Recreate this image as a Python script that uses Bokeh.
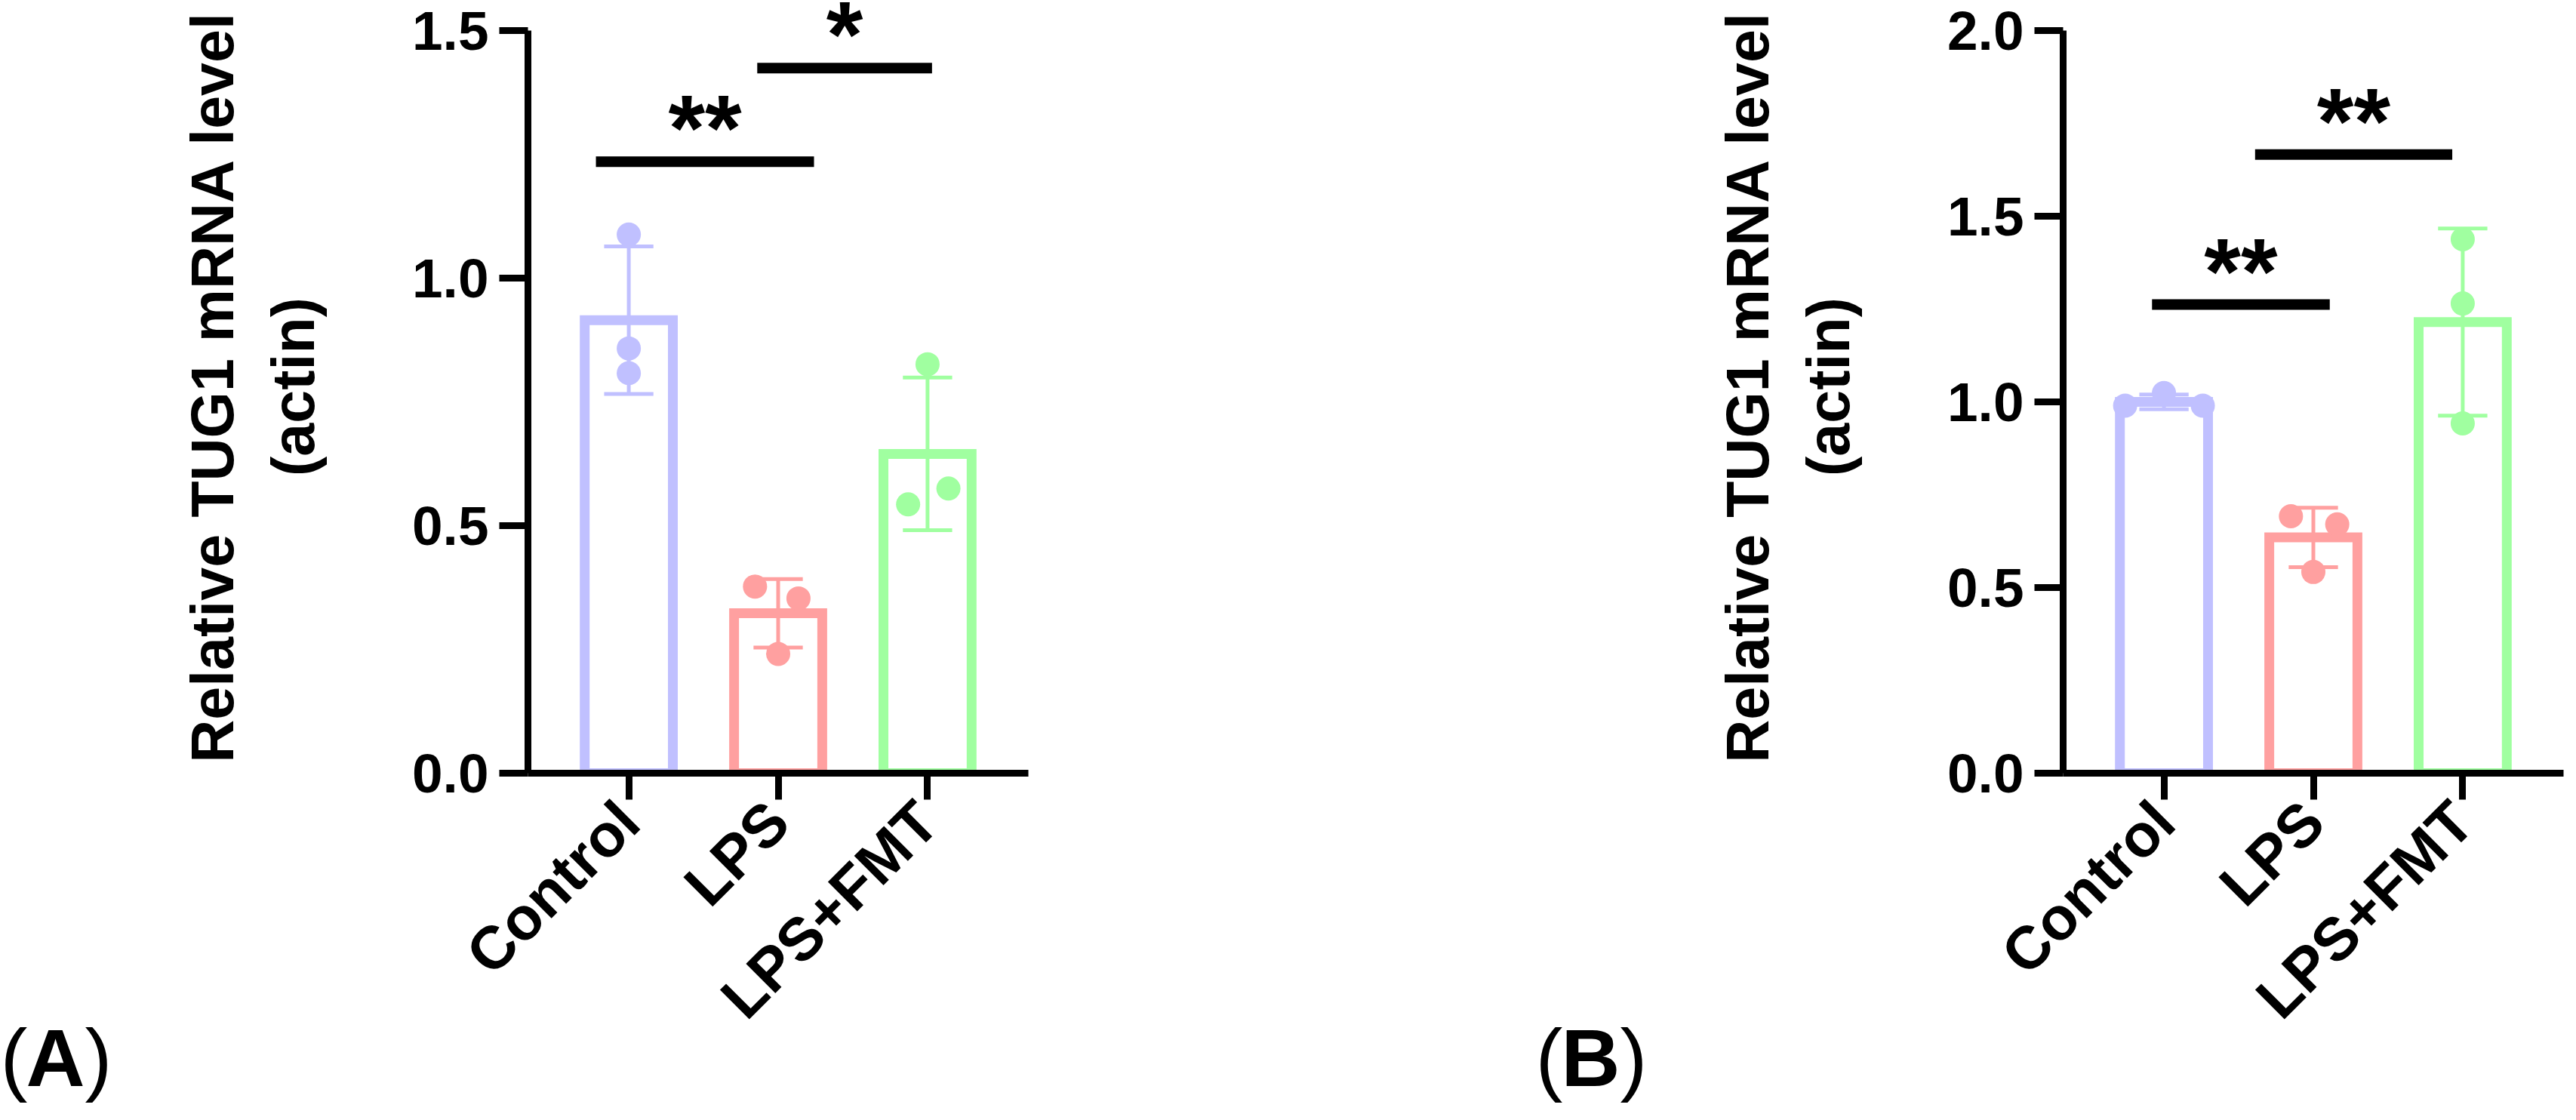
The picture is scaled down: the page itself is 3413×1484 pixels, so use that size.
from math import pi
from bokeh.plotting import figure
from bokeh.models import Label, FixedTicker, Range1d, ColumnDataSource, NumeralTickFormatter
from bokeh.layouts import row
from bokeh.embed import file_html
from bokeh.resources import INLINE

# ---------------- data ----------------
categories = ["Control", "LPS", "LPS+FMT"]
colors = ["#C0C0FF", "#FFA0A0", "#A0FFA0"]

# Panel A
a_means = [0.915, 0.323, 0.645]
a_sd = [0.149, 0.069, 0.154]
a_points = [[1.088, 0.858, 0.808], [0.377, 0.353, 0.241], [0.826, 0.575, 0.543]]
a_jitter = [[0.0, 0.0, 0.0], [-0.155, 0.136, 0.0], [0.0, 0.14, -0.13]]
a_yticks = [0.0, 0.5, 1.0, 1.5]
a_sig_from = [0, 1]
a_sig_to = [1, 2]
a_sig_level = [1.235, 1.424]
a_sig_text = ["**", "*"]

# Panel B
b_means = [1.0, 0.635, 1.215]
b_sd = [0.02, 0.08, 0.252]
b_points = [[0.99, 1.024, 0.99], [0.692, 0.670, 0.542], [1.438, 1.265, 0.942]]
b_jitter = [[-0.26, 0.0, 0.26], [-0.15, 0.16, 0.0], [0.0, 0.0, 0.0]]
b_yticks = [0.0, 0.5, 1.0, 1.5, 2.0]
b_sig_from = [0, 1]
b_sig_to = [1, 2]
b_sig_level = [1.262, 1.666]
b_sig_text = ["**", "**"]

ytitle = "Relative TUG1 mRNA level\n(actin)"

# ---------------- layout constants (page pixels) ----------------
FONT = "Liberation Sans"
FRAME_W = 663
AXIS_PX = 984          # pixel length of the y axis (0 .. top tick)
X0, X1 = -0.675, 2.675
TOP_EXTRA = 40         # space above the top tick (inside the frame)
CANVAS_H = 1468
STAR_SIZE = 125


def make_panel(frame_left_page, fig_left_page, fig_width, means, sd, points, jitter,
               yticks, sig_from, sig_to, sig_level, sig_text, sig_ext, letter):
    ymax = yticks[-1]
    pyu = AXIS_PX / ymax            # px per y unit
    pxu = FRAME_W / (X1 - X0)       # px per x unit
    ytop = ymax + TOP_EXTRA / pyu
    pad_left = frame_left_page - 8 - fig_left_page
    frame_h = AXIS_PX + TOP_EXTRA
    p = figure(frame_width=FRAME_W, frame_height=frame_h,
               x_range=Range1d(X0, X1), y_range=Range1d(0, ytop),
               min_border_left=pad_left,
               min_border_right=fig_width - pad_left - FRAME_W,
               min_border_top=0, min_border_bottom=CANVAS_H - frame_h,
               output_backend="svg", toolbar_location=None)
    p.outline_line_color = None
    p.grid.visible = False
    p.background_fill_color = "white"
    p.border_fill_color = "white"

    def px2x(px):
        return X0 + (px - frame_left_page) / pxu

    def py2y(py):
        return (1032 - py) / pyu

    for ax in (p.xaxis[0], p.yaxis[0]):
        ax.axis_line_width = 9
        ax.axis_line_color = "black"
        ax.major_tick_line_width = 9
        ax.major_tick_line_color = "black"
        ax.major_tick_in = 0
        ax.minor_tick_in = 0
        ax.minor_tick_out = 0
        ax.major_label_text_font = FONT
        ax.major_label_text_font_style = "bold"
        ax.major_label_text_color = "black"

    p.yaxis.bounds = (0, ymax)
    p.yaxis.ticker = FixedTicker(ticks=yticks)
    p.yaxis.formatter = NumeralTickFormatter(format="0.0")
    p.yaxis.major_tick_out = 38
    p.yaxis.major_label_standoff = 14
    p.yaxis.major_label_text_font_size = "73px"
    p.yaxis.axis_label = ytitle
    p.yaxis.axis_label_text_font = FONT
    p.yaxis.axis_label_text_font_style = "bold"
    p.yaxis.axis_label_text_font_size = "79px"
    p.yaxis.axis_label_text_color = "black"
    p.yaxis.axis_label_standoff = 110

    idx = list(range(len(categories)))
    p.xaxis.ticker = FixedTicker(ticks=idx)
    p.xaxis.major_label_overrides = {i: c for i, c in zip(idx, categories)}
    p.xaxis.major_tick_out = 35
    p.xaxis.major_label_orientation = pi / 4
    p.xaxis.major_label_standoff = 16
    p.xaxis.major_label_text_font_size = "80px"

    # bars (open)
    src = ColumnDataSource(dict(x=idx, top=means, sd=sd, color=colors,
                                lo=[m - s for m, s in zip(means, sd)],
                                hi=[m + s for m, s in zip(means, sd)]))
    p.vbar(x="x", top="top", bottom=-25 / pyu, width=0.59, source=src,
           fill_color=None, line_color="color", line_width=13, line_join="miter")

    # error bars
    p.segment(x0="x", y0="lo", x1="x", y1="hi", source=src, line_color="color", line_width=5)
    cap = 0.165
    capsrc = ColumnDataSource(dict(
        x0=[i - cap for i in idx] * 2, x1=[i + cap for i in idx] * 2,
        y=list(src.data["lo"]) + list(src.data["hi"]), color=colors * 2))
    p.segment(x0="x0", y0="y", x1="x1", y1="y", source=capsrc, line_color="color", line_width=5)

    # points
    px, py, pc = [], [], []
    for i, (vals, jit) in enumerate(zip(points, jitter)):
        for v, j in zip(vals, jit):
            px.append(i + j)
            py.append(v)
            pc.append(colors[i])
    p.scatter(x=px, y=py, size=32, color=pc, line_width=0)

    # significance
    sx0 = [f + e0 for f, (e0, e1) in zip(sig_from, sig_ext)]
    sx1 = [t + e1 for t, (e0, e1) in zip(sig_to, sig_ext)]
    p.segment(x0=sx0, y0=sig_level, x1=sx1, y1=sig_level, line_color="black",
              line_width=14, line_cap="butt")
    for a, b, lvl, t in zip(sx0, sx1, sig_level, sig_text):
        center = lvl + 62 / pyu
        p.add_layout(Label(x=(a + b) / 2, y=center - 0.14 * STAR_SIZE / pyu, text=t,
                           text_font=FONT, text_font_style="bold",
                           text_font_size=f"{STAR_SIZE}px",
                           text_align="center", text_baseline="alphabetic", text_color="black"))

    # panel letter
    off = frame_left_page - 707
    for txt, pxl, style in (("(", 8, "normal"), (letter, 42, "bold"), (")", 120, "normal")):
        p.add_layout(Label(x=px2x(pxl + off), y=py2y(1457 - 0.44 * 108), text=txt,
                           text_font=FONT, text_font_style=style, text_font_size="108px",
                           text_align="left", text_baseline="alphabetic", text_color="black"),
                     "left")
    return p


pA = make_panel(707, 0, 1700, a_means, a_sd, a_points, a_jitter, a_yticks,
                a_sig_from, a_sig_to, a_sig_level, a_sig_text,
                [(-0.22, 0.24), (-0.14, 0.03)], "A")
pB = make_panel(2741, 1700, 1697, b_means, b_sd, b_points, b_jitter, b_yticks,
                b_sig_from, b_sig_to, b_sig_level, b_sig_text,
                [(-0.08, 0.11), (-0.39, -0.07)], "B")

layout = row(pA, pB)
open("out.html", "w").write(file_html(layout, INLINE))
